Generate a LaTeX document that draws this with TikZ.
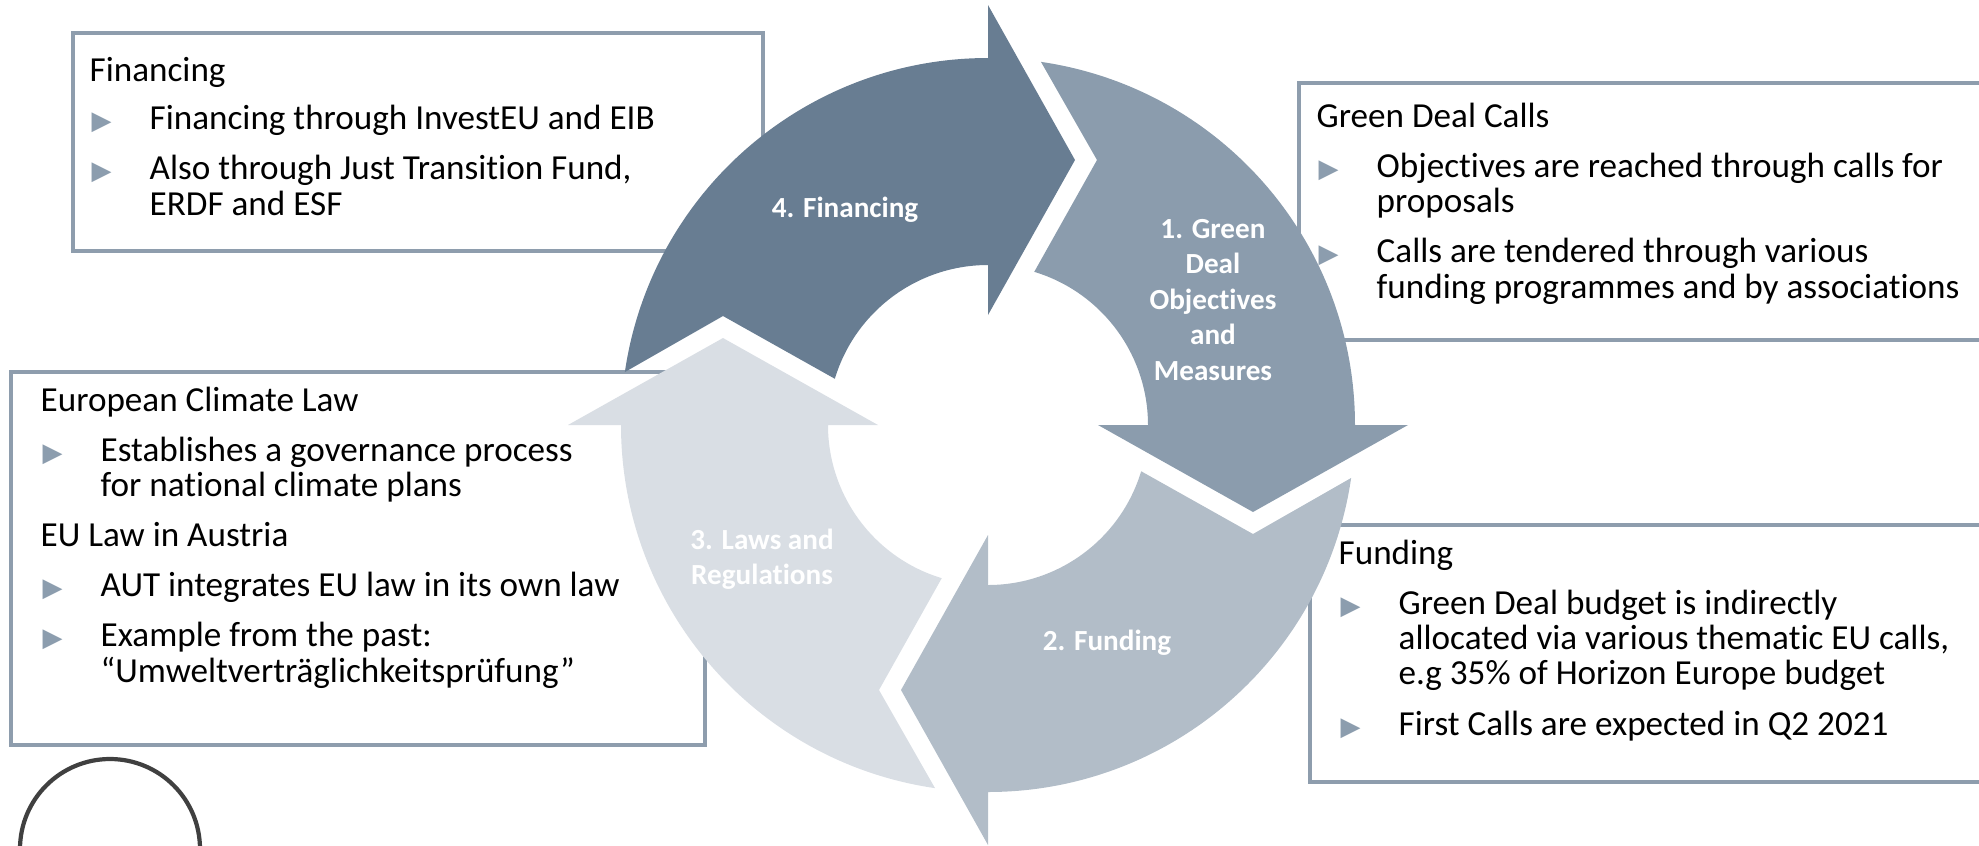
\documentclass[tikz,border=0pt]{standalone}
\usepackage{fontspec}
\setmainfont{Carlito}[Ligatures=NoCommon]
\newfontfamily\trifont{DejaVu Sans}
\usepackage{xcolor}
\definecolor{arrowA}{HTML}{8B9CAD}
\definecolor{arrowB}{HTML}{B2BDC8}
\definecolor{arrowC}{HTML}{D9DEE4}
\definecolor{arrowD}{HTML}{687D92}
\definecolor{boxline}{HTML}{8E9DAD}
\definecolor{bulletgray}{HTML}{8C9DAE}
\newcommand{\bul}{\makebox[6mm][l]{\hspace{0.2mm}{\trifont\fontsize{7.4}{7.4}\selectfont\color{bulletgray}▶}}}
\newcommand{\cont}{\hspace*{6mm}}
\setlength{\lineskiplimit}{-5pt}

\begin{document}
\begin{tikzpicture}
        % 定义样式:文本框,框内文字(锚点在最后一行的基线),箭头上的白色标签
        \tikzstyle{infobox}=[draw=boxline, line width=1.25pt, fill=white]
        \tikzstyle{infotext}=[anchor=base west, align=left, inner sep=0pt, font=\fontsize{10}{10}\selectfont]
        \tikzstyle{steplabel}=[text=white, align=center, inner sep=0pt, font=\bfseries\fontsize{8.3}{10.1}\selectfont]

        \useasboundingbox (0,0) rectangle (19.79,-8.45);

        % 四个文本框
        \draw[infobox] (0.73,-0.33) rectangle (7.63,-2.51);
        \draw[infobox] (12.99,-0.83) rectangle (20.30,-3.40);
        \draw[infobox] (0.11,-3.72) rectangle (7.05,-7.45);
        \draw[infobox] (13.10,-5.25) rectangle (20.30,-7.82);

        % 左下角的圆
        \draw[black!75, line width=1.2pt] (1.10,-8.49) circle (0.90);

        % 循环的圆心
        \coordinate (c) at (9.88,-4.25);

        % 四段弧形箭头:头部所在角度 / 颜色
        \foreach \a/\col in {0/arrowA, -90/arrowB, 180/arrowC, 90/arrowD} {
            \fill[\col, shift={(c)}, rotate=\a]
                (81.7:3.67) arc[start angle=81.7, end angle=0, radius=3.67]
                -- (4.20,0) -- (2.65,-0.87) -- (1.10,0) -- (1.60,0)
                arc[start angle=0, end angle=73.2, radius=1.60]
                -- (1.09,2.65) -- cycle;
        }

        % 箭头上的标签
        \node[steplabel, anchor=base] (lab4) at (8.45,-2.17) {4. Financing};
        \node[steplabel] (lab1) at (12.13,-3.00) {1. Green\\Deal\\Objectives\\and\\Measures};
        \node[steplabel, anchor=base] (lab2) at (11.07,-6.50) {2. Funding};
        \node[steplabel] (lab3) at (7.62,-5.59) {3. Laws and\\Regulations};

        % 框内文字
        \node[infotext] (fin) at (0.89,-2.15) {Financing\\[1.3mm]
            \bul Financing through InvestEU and EIB\\[1.5mm]
            \bul Also through Just Transition Fund,\\
            \cont ERDF and ESF};
        \node[infotext] (calls) at (13.16,-2.98) {Green Deal Calls\\[1.5mm]
            \bul Objectives are reached through calls for\\
            \cont proposals\\[1.5mm]
            \bul Calls are tendered through various\\
            \cont funding programmes and by associations};
        \node[infotext] (law) at (0.40,-6.82) {European Climate Law\\[1.5mm]
            \bul Establishes a governance process\\
            \cont for national climate plans\\[1.5mm]
            EU Law in Austria\\[1.5mm]
            \bul AUT integrates EU law in its own law\\[1.5mm]
            \bul Example from the past:\\
            \cont “Umweltverträglichkeitsprüfung”};
        \node[infotext] (fund) at (13.38,-7.35) {Funding\\[1.5mm]
            \bul Green Deal budget is indirectly\\
            \cont allocated via various thematic EU calls,\\
            \cont e.g 35\% of Horizon Europe budget\\[1.5mm]
            \bul First Calls are expected in Q2 2021};
\end{tikzpicture}
\end{document}
